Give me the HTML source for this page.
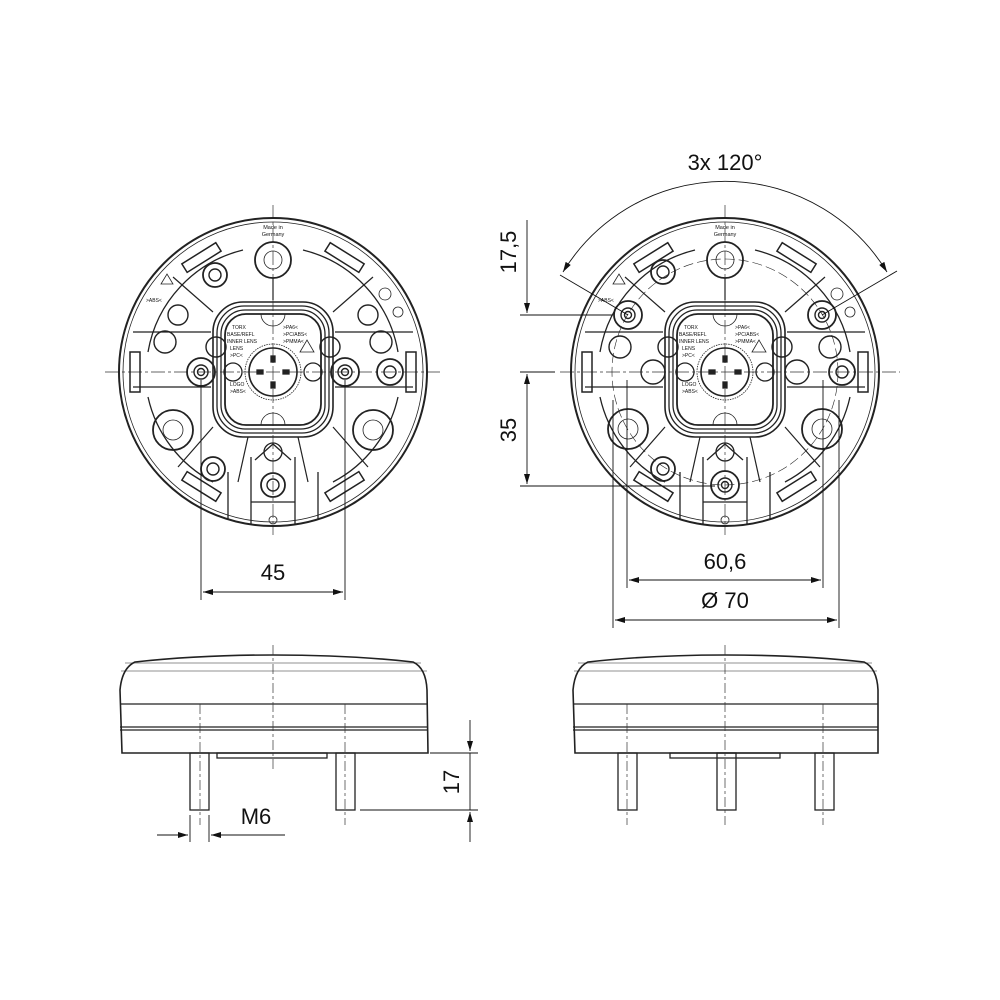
<!DOCTYPE html>
<html><head><meta charset="utf-8"><style>
html,body{margin:0;padding:0;background:#fff}
svg{display:block}
text{font-family:"Liberation Sans",Arial,sans-serif;fill:#111}
</style></head><body>
<svg width="1000" height="1000" viewBox="0 0 1000 1000" xmlns="http://www.w3.org/2000/svg">
<defs>
<marker id="ar" viewBox="0 0 10 6" refX="10" refY="3" markerWidth="12" markerHeight="6" orient="auto-start-reverse" markerUnits="userSpaceOnUse"><path d="M0,0 L10,3 L0,6 z" fill="#111"/></marker>
<g id="base" fill="none" stroke="#222" stroke-width="1.3">
  <circle r="154" stroke-width="2"/>
  <circle r="150" stroke-width="0.8"/>
  <path d="M-125,-20 A127,127 0 0 1 -30,-122 M30,-122 A127,127 0 0 1 125,-20 M125,25 A127,127 0 0 1 60,110 M-60,110 A127,127 0 0 1 -125,25"/>
  <rect x="-60" y="-70" width="120" height="135" rx="30" stroke-width="1.6"/>
  <rect x="-56" y="-66" width="112" height="127" rx="27"/>
  <rect x="-52" y="-62" width="104" height="119" rx="24"/>
  <rect x="-48" y="-58" width="96" height="111" rx="21" stroke-width="1.8"/>
  <circle r="28" stroke-width="0.8" stroke-dasharray="1.5 1"/>
  <circle r="24" stroke-width="1.6"/>
  <rect x="-2" y="-16" width="4" height="6" fill="#222"/><rect x="-2" y="10" width="4" height="6" fill="#222"/>
  <rect x="-16" y="-2" width="6" height="4" fill="#222"/><rect x="10" y="-2" width="6" height="4" fill="#222"/>
  <path d="M-12,-58 A12,12 0 0 0 12,-58 M-12,53 A12,12 0 0 1 12,53" stroke-width="0.8"/>
  <circle cy="-112" r="18" stroke-width="1.8"/><circle cy="-112" r="9" stroke-width="0.8"/>
  <path d="M0,-94 V-72 M-60,-60 L-100,-95 M60,-60 L100,-95 M-60,55 L-95,95 M60,55 L95,95 M-25,65 L-35,110 M25,65 L35,110 M-62,-40 L-140,-40 M62,-40 L140,-40 M-62,15 L-140,15 M62,15 L140,15" stroke-width="1.2"/>
  <g transform="rotate(-32)"><rect x="-20" y="-140" width="40" height="10" stroke-width="1.5"/></g>
  <g transform="rotate(32)"><rect x="-20" y="-140" width="40" height="10" stroke-width="1.5"/></g>
  <g transform="rotate(-148)"><rect x="-20" y="-140" width="40" height="10" stroke-width="1.5"/></g>
  <g transform="rotate(148)"><rect x="-20" y="-140" width="40" height="10" stroke-width="1.5"/></g>
  <rect x="-143" y="-20" width="10" height="40" stroke-width="1.5"/>
  <rect x="133" y="-20" width="10" height="40" stroke-width="1.5"/>
  <path d="M-22,85 L-22,152 M22,85 L22,152 M-22,130 H22 M-18,88 L0,72 L18,88 M-45,100 L-45,148 M45,100 L45,148"/>
  <circle cy="80" r="9"/>
  <circle cy="148" r="4" stroke-width="0.8"/>
  <circle cx="-40" cy="0" r="9"/><circle cx="40" cy="0" r="9"/>
  <circle cx="112" cy="-78" r="6" stroke-width="0.8"/><circle cx="125" cy="-60" r="5" stroke-width="0.8"/>
  <path d="M-112,-88 l6,-10 l6,10z M27,-20 l7,-12 l7,12z" stroke-width="0.8"/>
</g>
</defs>

<g stroke="#333" stroke-width="0.7" fill="none" stroke-dasharray="14 3 3 3">
  <line x1="273" y1="205" x2="273" y2="535"/><line x1="105" y1="372" x2="440" y2="372"/>
  <line x1="725" y1="205" x2="725" y2="535"/><line x1="560" y1="372" x2="900" y2="372"/>
</g>

<!-- left top view -->
<g transform="translate(273,372)">
  <use href="#base"/>
  <g fill="none" stroke="#222" stroke-width="1.4">
    <circle cx="-72" r="14" stroke-width="1.8"/><circle cx="-72" r="7"/><circle cx="-72" r="3.5"/>
    <circle cx="72" r="14" stroke-width="1.8"/><circle cx="72" r="7"/><circle cx="72" r="3.5"/>
    <circle cx="117" r="13" stroke-width="1.8"/><circle cx="117" r="6"/>
    <circle cx="-100" cy="58" r="20" stroke-width="1.8"/><circle cx="-100" cy="58" r="10" stroke-width="0.8"/>
    <circle cx="100" cy="58" r="20" stroke-width="1.8"/><circle cx="100" cy="58" r="10" stroke-width="0.8"/>
    <circle cx="-58" cy="-97" r="12" stroke-width="1.8"/><circle cx="-58" cy="-97" r="6"/>
    <circle cx="-60" cy="97" r="12" stroke-width="1.8"/><circle cx="-60" cy="97" r="6"/>
    <circle cx="-95" cy="-57" r="10"/><circle cx="95" cy="-57" r="10"/>
    <circle cx="-108" cy="-30" r="11"/><circle cx="108" cy="-30" r="11"/>
    <circle cx="-57" cy="-25" r="10"/><circle cx="57" cy="-25" r="10"/>
    <circle cy="113" r="12" stroke-width="1.8"/><circle cy="113" r="6"/>
  </g>
</g>
<!-- right top view -->
<g transform="translate(725,372)">
  <use href="#base"/>
  <g fill="none" stroke="#222" stroke-width="1.4">
    <circle cx="-97" cy="-57" r="14" stroke-width="1.8"/><circle cx="-97" cy="-57" r="7"/><circle cx="-97" cy="-57" r="3.5"/>
    <circle cx="97" cy="-57" r="14" stroke-width="1.8"/><circle cx="97" cy="-57" r="7"/><circle cx="97" cy="-57" r="3.5"/>
    <circle cy="113" r="14" stroke-width="1.8"/><circle cy="113" r="7"/><circle cy="113" r="3.5"/>
    <circle cx="-72" r="12"/><circle cx="72" r="12"/>
    <circle cx="117" r="13" stroke-width="1.8"/><circle cx="117" r="6"/>
    <circle cx="-97" cy="57" r="20" stroke-width="1.8"/><circle cx="-97" cy="57" r="10" stroke-width="0.8"/>
    <circle cx="97" cy="57" r="20" stroke-width="1.8"/><circle cx="97" cy="57" r="10" stroke-width="0.8"/>
    <circle cx="-62" cy="-100" r="12" stroke-width="1.8"/><circle cx="-62" cy="-100" r="6"/>
    <circle cx="-62" cy="97" r="12" stroke-width="1.8"/><circle cx="-62" cy="97" r="6"/>
    <circle cx="-105" cy="-25" r="11"/><circle cx="105" cy="-25" r="11"/>
    <circle cx="-57" cy="-25" r="10"/><circle cx="57" cy="-25" r="10"/>
    <circle r="113" stroke-width="0.6" stroke-dasharray="10 4"/>
  </g>
</g>

<!-- tiny labels -->
<g font-size="5.5" text-anchor="middle">
  <text x="273" y="229">Made in</text><text x="273" y="236">Germany</text>
  <text x="725" y="229">Made in</text><text x="725" y="236">Germany</text>
</g>
<g font-size="5">
  <text x="232" y="329">TORX</text><text x="283" y="329">&gt;PA6&lt;</text>
  <text x="227" y="336">BASE/REFL</text><text x="283" y="336">&gt;PC/ABS&lt;</text>
  <text x="227" y="343">INNER LENS</text><text x="283" y="343">&gt;PMMA&lt;</text>
  <text x="230" y="350">LENS</text><text x="230" y="357">&gt;PC&lt;</text>
  <text x="230" y="386">LOGO</text><text x="230" y="393">&gt;ABS&lt;</text>
  <text x="684" y="329">TORX</text><text x="735" y="329">&gt;PA6&lt;</text>
  <text x="679" y="336">BASE/REFL</text><text x="735" y="336">&gt;PC/ABS&lt;</text>
  <text x="679" y="343">INNER LENS</text><text x="735" y="343">&gt;PMMA&lt;</text>
  <text x="682" y="350">LENS</text><text x="682" y="357">&gt;PC&lt;</text>
  <text x="682" y="386">LOGO</text><text x="682" y="393">&gt;ABS&lt;</text>
  <text x="146" y="302">&gt;ABS&lt;</text><text x="598" y="302">&gt;ABS&lt;</text>
</g>

<!-- dimensions top -->
<g stroke="#111" stroke-width="0.9" fill="none">
  <line x1="201" y1="380" x2="201" y2="600"/><line x1="345" y1="380" x2="345" y2="600"/>
  <line x1="203" y1="592" x2="343" y2="592" marker-start="url(#ar)" marker-end="url(#ar)"/>
  <line x1="627" y1="380" x2="627" y2="588"/><line x1="823" y1="380" x2="823" y2="588"/>
  <line x1="629" y1="580" x2="821" y2="580" marker-start="url(#ar)" marker-end="url(#ar)"/>
  <line x1="613" y1="400" x2="613" y2="628"/><line x1="839" y1="400" x2="839" y2="628"/>
  <line x1="615" y1="620" x2="837" y2="620" marker-start="url(#ar)" marker-end="url(#ar)"/>
  <line x1="520" y1="315" x2="612" y2="315"/><line x1="520" y1="372" x2="555" y2="372"/><line x1="520" y1="486" x2="715" y2="486"/>
  <line x1="527" y1="220" x2="527" y2="313" marker-end="url(#ar)"/>
  <line x1="527" y1="374" x2="527" y2="395" marker-start="url(#ar)"/>
  <line x1="527" y1="395" x2="527" y2="484" marker-end="url(#ar)"/>
  <line x1="628" y1="315" x2="560" y2="275"/><line x1="822" y1="315" x2="897" y2="271"/>
  <path d="M563,272 A190,190 0 0 1 887,272" marker-start="url(#ar)" marker-end="url(#ar)"/>
</g>
<g font-size="22" text-anchor="middle">
  <text x="273" y="580">45</text>
  <text x="725" y="569">60,6</text>
  <text x="725" y="608">Ø 70</text>
  <text x="725" y="170">3x 120°</text>
  <text transform="translate(516,252) rotate(-90)">17,5</text>
  <text transform="translate(516,430) rotate(-90)">35</text>
</g>

<!-- side views -->
<g fill="none" stroke="#222" stroke-width="1.3">
  <path d="M122,753 L120,690 Q122,668 135,662 Q200,655 273,655 Q350,655 413,662 Q426,668 427,690 L428,753 Z" stroke-width="1.6"/>
  <line x1="125" y1="663" x2="421" y2="663" stroke-width="0.6"/>
  <line x1="121" y1="671" x2="427" y2="671" stroke-width="0.6"/>
  <line x1="120" y1="704" x2="428" y2="704"/>
  <line x1="120" y1="727" x2="428" y2="727"/><line x1="120" y1="730" x2="428" y2="730"/>
  <rect x="217" y="753" width="110" height="5"/>
  <rect x="190" y="753" width="19" height="57"/>
  <rect x="336" y="753" width="19" height="57"/>
  <path d="M575,753 L573,690 Q575,668 588,662 Q650,655 725,655 Q800,655 864,662 Q877,668 878,690 L878,753 Z" stroke-width="1.6"/>
  <line x1="578" y1="663" x2="872" y2="663" stroke-width="0.6"/>
  <line x1="574" y1="671" x2="877" y2="671" stroke-width="0.6"/>
  <line x1="573" y1="704" x2="878" y2="704"/>
  <line x1="573" y1="727" x2="878" y2="727"/><line x1="573" y1="730" x2="878" y2="730"/>
  <rect x="670" y="753" width="110" height="5"/>
  <rect x="618" y="753" width="19" height="57"/>
  <rect x="717" y="753" width="19" height="57"/>
  <rect x="815" y="753" width="19" height="57"/>
</g>
<g stroke="#333" stroke-width="0.7" stroke-dasharray="10 3 3 3">
  <line x1="273" y1="645" x2="273" y2="770"/><line x1="200" y1="704" x2="200" y2="825"/><line x1="345" y1="704" x2="345" y2="825"/>
  <line x1="725" y1="645" x2="725" y2="825"/><line x1="627" y1="704" x2="627" y2="825"/><line x1="823" y1="704" x2="823" y2="825"/>
</g>
<g stroke="#111" stroke-width="0.9" fill="none">
  <line x1="430" y1="753" x2="478" y2="753"/><line x1="360" y1="810" x2="478" y2="810"/>
  <line x1="470" y1="720" x2="470" y2="751" marker-end="url(#ar)"/>
  <line x1="470" y1="812" x2="470" y2="842" marker-start="url(#ar)"/>
  <line x1="470" y1="753" x2="470" y2="810"/>
  <line x1="190" y1="815" x2="190" y2="842"/><line x1="209" y1="815" x2="209" y2="842"/>
  <line x1="157" y1="835" x2="188" y2="835" marker-end="url(#ar)"/>
  <line x1="211" y1="835" x2="285" y2="835" marker-start="url(#ar)"/>
</g>
<g font-size="22" text-anchor="middle">
  <text x="256" y="824">M6</text>
  <text transform="translate(459,782) rotate(-90)">17</text>
</g>
</svg>
</body></html>
